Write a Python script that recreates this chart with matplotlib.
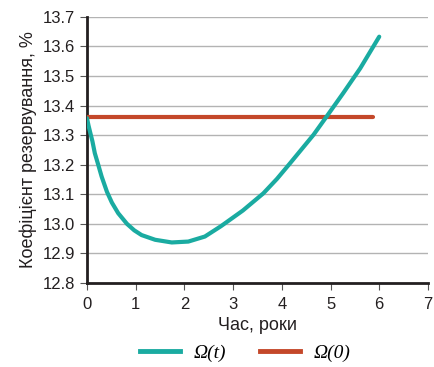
import matplotlib.pyplot as plt
from matplotlib.lines import Line2D

plt.rcParams['font.family'] = ['Liberation Sans Narrow', 'Liberation Sans', 'DejaVu Sans']

# Дані
t_vals = [0.0, 0.03, 0.07, 0.11, 0.16, 0.23, 0.30, 0.41, 0.51, 0.64, 0.82, 0.97, 1.12, 1.40,
          1.74, 2.08, 2.42, 2.75, 3.20, 3.62, 3.90, 4.17, 4.65, 4.92, 5.26, 5.61, 6.0]
omega_t = [13.357, 13.333, 13.306, 13.280, 13.239, 13.200, 13.160, 13.108, 13.072, 13.036,
           13.000, 12.978, 12.962, 12.946, 12.937, 12.940, 12.957, 12.992, 13.045, 13.103,
           13.152, 13.205, 13.301, 13.363, 13.442, 13.526, 13.633]
t_const = [0.0, 5.88]
omega_0 = [13.36, 13.36]

x_ticks = [0, 1, 2, 3, 4, 5, 6, 7]
y_ticks = [12.8, 12.9, 13.0, 13.1, 13.2, 13.3, 13.4, 13.5, 13.6, 13.7]

teal = '#1aaba1'
red = '#c4482a'

fig = plt.figure(figsize=(4.34, 3.67), dpi=100)
ax = fig.add_axes([0.2005, 0.229, 0.7855, 0.725])

for y in y_ticks[1:]:
    ax.axhline(y, color='#b3b3b3', lw=1.0, zorder=1)

ax.plot(t_const, omega_0, color=red, lw=3, solid_capstyle='round', zorder=3)
ax.plot(t_vals, omega_t, color=teal, lw=3, solid_capstyle='round',
        solid_joinstyle='round', zorder=4)

ax.set_xlim(0, 7)
ax.set_ylim(12.8, 13.7)
ax.set_xticks(x_ticks)
ax.set_yticks(y_ticks)
ax.set_yticklabels([f'{v:.1f}' for v in y_ticks])

for s in ['top', 'right']:
    ax.spines[s].set_visible(False)
for s in ['left', 'bottom']:
    ax.spines[s].set_linewidth(2)
    ax.spines[s].set_color('#231f20')

ax.tick_params(axis='both', labelsize=12, color='#555555', width=0.8, length=5,
               labelcolor='#231f20')
ax.tick_params(axis='x', pad=5)
ax.set_xlabel('Час, роки', fontsize=13, color='#231f20')
ax.set_ylabel('Коефіцієнт резервування, %', fontsize=13, color='#231f20')

handles = [Line2D([], [], color=teal, lw=3.5),
           Line2D([], [], color=red, lw=3.5)]
fig.legend(handles, ['Ω(t)', 'Ω(0)'],
           loc='lower center', bbox_to_anchor=(0.565, -0.035), ncol=2, frameon=False,
           prop={'family': 'Liberation Serif', 'style': 'italic', 'size': 14},
           handlelength=2.1, columnspacing=1.7, handletextpad=0.7)

fig.savefig('out.png', dpi=100)
